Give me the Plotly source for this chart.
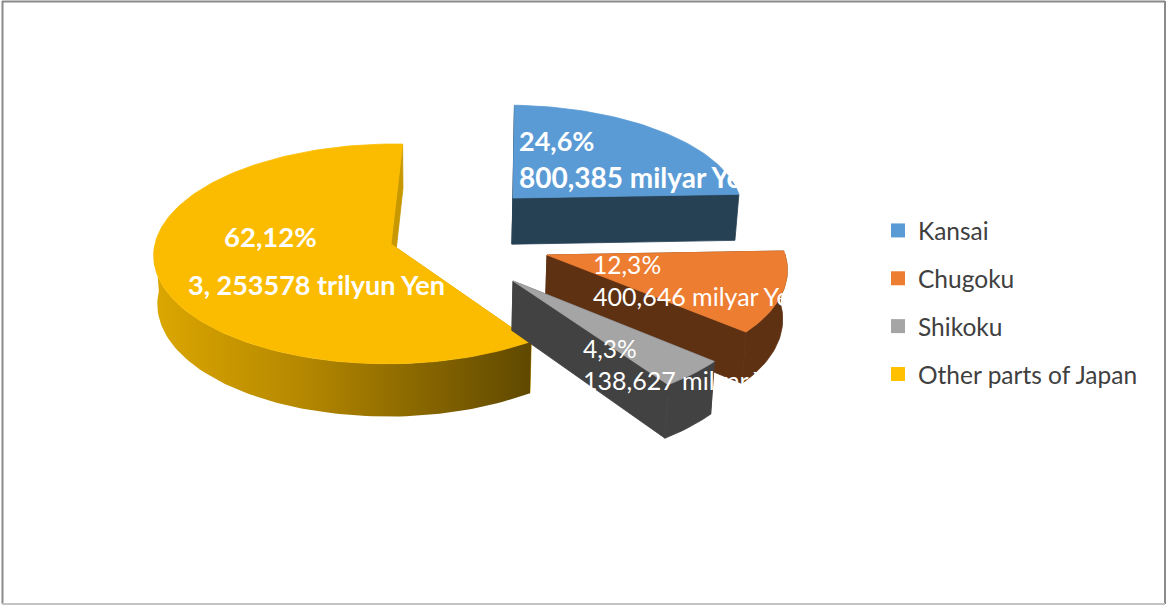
import math
import plotly.graph_objects as go

# Regional shares and the text printed on each slice
categories = ["Kansai", "Chugoku", "Shikoku", "Other parts of Japan"]
share_percent = [24.6, 12.3, 4.3, 62.12]
share_labels = ["24,6%", "12,3%", "4,3%", "62,12%"]
amount_labels = ["800,385 milyar Yen", "400,646 milyar Yen", "138,627 milyar Yen", "3, 253578 trilyun Yen"]

top_colors = ["#5B9BD5", "#ED7D31", "#A5A5A5", "#FBBC00"]
legend_colors = ["#5B9BD5", "#ED7D31", "#A5A5A5", "#FFC000"]
wall_colors = ["#264054", "#5F3113", "#424242", "#C89800"]

W, H = 1166, 605

# Perspective camera for the tilted disc
VANISH_X = 431
BASE_Y = 244
RADIUS_X = 236
RADIUS_Y = 109
DEPTH_K = 0.09
THICKNESS = 48
BOTTOM_SHRINK = 0.987
START_DEG = 2.2

# Where the exploded tip of each slice lands on the canvas
TIPS = [(513, 198), (547, 255), (513, 281), (391, 244)]

# Annotation anchors per slice: share line (x, y, size), amount line (x, y, size), weight
LABEL_SPOTS = [
    ((519, 140, 27), (519, 177, 28), 700),
    ((593, 264, 24.6), (593, 296, 25), 400),
    ((583, 348, 24.6), (583, 380, 25), 400),
    ((224, 236, 27.5), (188, 284, 27), 700),
]


def scale(v):
    return 1 / (1 + DEPTH_K * v)


def tip_to_world(px, py):
    d = (BASE_Y - py) / RADIUS_Y
    v = d / (1 - DEPTH_K * d)
    return (px - VANISH_X) / scale(v), v


def project(wx, v):
    s = scale(v)
    return VANISH_X + wx * s, BASE_Y - RADIUS_Y * v * s


def drop(x, y, v):
    return VANISH_X + (x - VANISH_X) * BOTTOM_SHRINK, y + THICKNESS * scale(v)


def slice_points(tip, a0, a1):
    wx0, v0 = tip_to_world(*tip)
    n = max(4, int(abs(a1 - a0) / 1.5))
    arc = []
    for i in range(n + 1):
        deg = a0 + (a1 - a0) * i / n
        rad = math.radians(deg)
        wx = wx0 + RADIUS_X * math.sin(rad)
        v = v0 + math.cos(rad)
        arc.append((*project(wx, v), v))
    return (*project(wx0, v0), v0), arc


def polygon(points, color=None, gradient=None):
    xs = [p[0] for p in points] + [points[0][0]]
    ys = [p[1] for p in points] + [points[0][1]]
    kwargs = dict(x=xs, y=ys, mode="lines", fill="toself", hoverinfo="skip", showlegend=False)
    if gradient:
        kwargs["fillgradient"] = gradient
        kwargs["line"] = dict(width=0)
    else:
        kwargs["fillcolor"] = color
        # A hairline of the fill colour closes the seams between neighbouring faces
        kwargs["line"] = dict(width=0.8, color=color)
    return go.Scatter(**kwargs)


total = sum(share_percent)
spans = [p / total * 360 for p in share_percent]
angles = []
cursor = START_DEG
for span in spans:
    angles.append((cursor, cursor + span))
    cursor += span

fig = go.Figure()

yellow_wall = dict(
    type="horizontal",
    colorscale=[[0, "#DCA700"], [0.4, "#B48700"], [1, "#5F4800"]],
)

# Paint from back to front: Kansai, the large slice, Chugoku, Shikoku
for idx in [0, 3, 1, 2]:
    a0, a1 = angles[idx]
    tip, arc = slice_points(TIPS[idx], a0, a1)
    tip_low = (*drop(*tip), tip[2])
    low = [(*drop(*p), p[2]) for p in arc]

    # Flat cut faces at both ends of the slice
    fig.add_trace(polygon([tip, arc[0], low[0], tip_low], wall_colors[idx]))
    fig.add_trace(polygon([tip, arc[-1], low[-1], tip_low], wall_colors[idx]))

    # Outer rim, only the part turned towards the viewer
    rim = [i for i in range(len(arc))
           if math.cos(math.radians(a0 + (a1 - a0) * i / (len(arc) - 1))) < 0.02]
    if rim:
        upper = [arc[i] for i in rim]
        lower = [low[i] for i in rim]
        if idx == 3:
            fig.add_trace(polygon(upper + lower[::-1], gradient=yellow_wall))
        else:
            fig.add_trace(polygon(upper + lower[::-1], wall_colors[idx]))

    # Top face
    fig.add_trace(polygon([tip] + arc, top_colors[idx]))

# Legend keys
for idx, name in enumerate(categories):
    fig.add_trace(go.Scatter(
        x=[None], y=[None], mode="markers", name=name, legendgroup=name,
        marker=dict(symbol="square", size=14, color=legend_colors[idx]),
        hoverinfo="skip",
    ))

annotations = []
for idx in range(4):
    share_spot, amount_spot, weight = LABEL_SPOTS[idx]
    for text, (tx, ty, size) in ((share_labels[idx], share_spot), (amount_labels[idx], amount_spot)):
        annotations.append(dict(
            x=tx, y=ty, xref="x", yref="y", text=text, showarrow=False,
            xanchor="left", yanchor="middle", borderpad=0, borderwidth=0,
            font=dict(family="Lato", size=size, color="white", weight=weight),
        ))

frame = [
    dict(type="line", xref="x", yref="y", x0=2.5, x1=2.5, y0=1, y1=604, line=dict(color="#8A8A8A", width=2)),
    dict(type="line", xref="x", yref="y", x0=2, x1=1165, y0=1.5, y1=1.5, line=dict(color="#8A8A8A", width=2)),
    dict(type="line", xref="x", yref="y", x0=1165, x1=1165, y0=1, y1=604, line=dict(color="#8A8A8A", width=2)),
    dict(type="line", xref="x", yref="y", x0=2, x1=1165, y0=604, y1=604, line=dict(color="#C4C4C4", width=2)),
]

fig.update_layout(
    width=W, height=H, autosize=False,
    margin=dict(l=0, r=0, t=0, b=0),
    paper_bgcolor="white", plot_bgcolor="white",
    xaxis=dict(range=[0, W], visible=False, fixedrange=True),
    yaxis=dict(range=[H, 0], visible=False, fixedrange=True),
    hovermode=False,
    annotations=annotations,
    shapes=frame,
    legend=dict(
        x=878 / W, y=1 - 208 / H, xanchor="left", yanchor="top",
        bgcolor="rgba(0,0,0,0)", borderwidth=0,
        font=dict(family="Lato", size=24.5, color="#404040"),
        tracegroupgap=13, itemclick=False, itemdoubleclick=False,
    ),
)

fig.write_html("out.html", config={"displayModeBar": False})
